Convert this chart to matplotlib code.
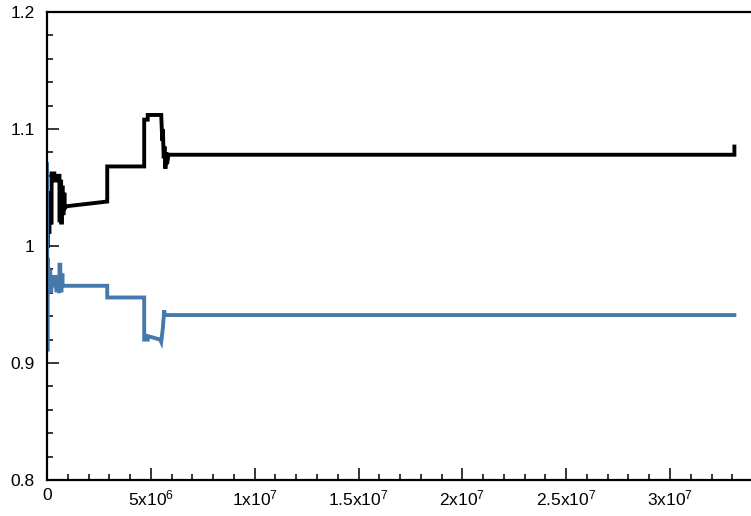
import matplotlib
matplotlib.use("Agg")
import matplotlib.pyplot as plt
from matplotlib.ticker import MultipleLocator, FixedLocator

# Data (x in units of 1e6)
black_x = [0, 0.04, 0.04, 0.08, 0.08, 0.12, 0.12, 0.16, 0.16, 0.22, 0.22, 0.35, 0.35, 0.5, 0.5,
           0.6, 0.6, 0.64, 0.64, 0.68, 0.68, 0.72, 0.72, 0.76, 0.76, 0.8, 0.8, 0.85, 0.85, 0.95,
           2.9, 2.9, 4.68, 4.68, 4.85, 4.85, 5.5, 5.55, 5.58, 5.62, 5.66, 5.7, 5.75, 5.78, 5.85,
           33.1, 33.1]
black_y = [1.0, 1.0, 1.03, 1.03, 1.012, 1.012, 1.045, 1.045, 1.02, 1.02, 1.062, 1.062, 1.056, 1.056, 1.06,
           1.06, 1.022, 1.022, 1.055, 1.055, 1.02, 1.02, 1.05, 1.05, 1.028, 1.028, 1.044, 1.044, 1.032, 1.034,
           1.038, 1.068, 1.068, 1.108, 1.108, 1.112, 1.112, 1.09, 1.1, 1.075, 1.085, 1.066, 1.08, 1.07, 1.078,
           1.078, 1.085]

blue_x = [0, 0.02, 0.02, 0.05, 0.1, 0.15, 0.2, 0.25, 0.3, 0.35, 0.4, 0.45, 0.55, 0.6, 0.6, 0.64, 0.64,
          0.7, 0.7, 0.75, 0.75, 0.95,
          2.9, 2.9, 4.68, 4.68, 4.85, 4.85, 5.45, 5.5, 5.58, 5.6, 5.65, 5.65, 33.1]
blue_y = [1.07, 0.91, 0.99, 0.985, 0.965, 0.98, 0.96, 0.975, 0.97, 0.965, 0.975, 0.962, 0.962, 0.96, 0.984,
          0.984, 0.962, 0.962, 0.975, 0.975, 0.966, 0.966,
          0.966, 0.956, 0.956, 0.920, 0.920, 0.923, 0.920, 0.918, 0.93, 0.935, 0.945, 0.941, 0.941]

x_ticks = [0, 5e6, 1e7, 1.5e7, 2e7, 2.5e7, 3e7]
x_tick_labels = ["0", "5x10$^{6}$", "1x10$^{7}$", "1.5x10$^{7}$", "2x10$^{7}$", "2.5x10$^{7}$", "3x10$^{7}$"]
y_ticks = [0.8, 0.9, 1.0, 1.1, 1.2]
y_tick_labels = ["0.8", "0.9", "1", "1.1", "1.2"]

plt.rcParams['font.family'] = ['Liberation Sans', 'DejaVu Sans']
plt.rcParams['mathtext.fontset'] = 'custom'
plt.rcParams['mathtext.rm'] = 'Liberation Sans'
plt.rcParams['mathtext.it'] = 'Liberation Sans'

fig = plt.figure(figsize=(7.51, 5.16), dpi=100)
ax = fig.add_axes([47/751, 1 - 480/516, 1 - 47/751, (480 - 12)/516])

ax.plot([v * 1e6 for v in black_x], black_y, color='black', lw=2.8, solid_joinstyle='miter')
ax.plot([v * 1e6 for v in blue_x], blue_y, color='#4679ab', lw=2.8, solid_joinstyle='miter')

ax.set_xlim(0, 33.9e6)
ax.set_ylim(0.8, 1.2)

ax.xaxis.set_major_locator(FixedLocator(x_ticks))
ax.set_xticklabels(x_tick_labels)
ax.xaxis.set_minor_locator(MultipleLocator(1e6))
ax.yaxis.set_major_locator(FixedLocator(y_ticks))
ax.set_yticklabels(y_tick_labels)
ax.yaxis.set_minor_locator(MultipleLocator(0.02))

ax.tick_params(which='both', direction='in', top=False, right=False, width=1.1, labelsize=12.5)
ax.tick_params(which='major', length=8.5)
ax.tick_params(which='minor', length=4.3)
ax.tick_params(axis='x', pad=6)
ax.tick_params(axis='y', pad=9)

ax.spines['right'].set_visible(False)
for s in ['left', 'bottom', 'top']:
    ax.spines[s].set_linewidth(1.6)

fig.savefig("out.png", dpi=100)
